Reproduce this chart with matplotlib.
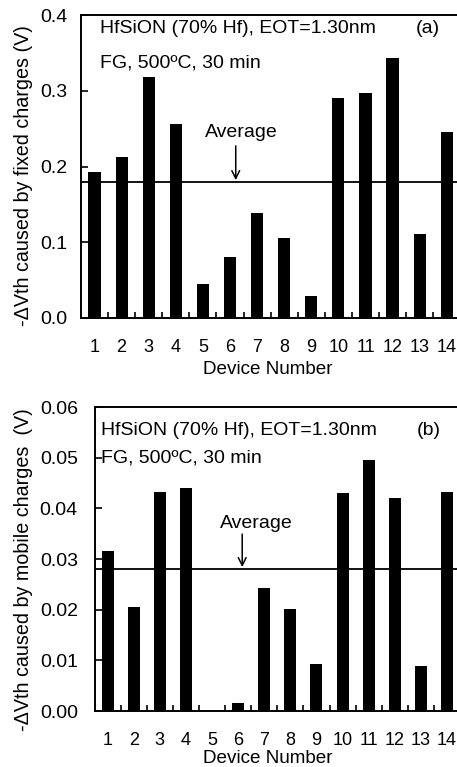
#!/usr/bin/env python3

from matplotlib import pyplot as plt
import matplotlib
import numpy as np


devices = list(range(1, 15))
device_labels = [str(d) for d in devices]

fixed_vals = [0.193, 0.212, 0.318, 0.256, 0.045, 0.080, 0.138, 0.105,
              0.029, 0.290, 0.297, 0.343, 0.111, 0.245]
fixed_avg = 0.180

mobile_vals = [0.0316, 0.0205, 0.0432, 0.0441, 0.0, 0.0016, 0.0243, 0.0201,
               0.0093, 0.0430, 0.0496, 0.0421, 0.0089, 0.0432]
mobile_avg = 0.0281

cond_text = "HfSiON (70% Hf), EOT=1.30nm"
anneal_text = "FG, 500\u00baC, 30 min"

TXT = 14


def setup():
    matplotlib.rcParams.update({
        "font.family": ["Liberation Sans", "DejaVu Sans"],
        "font.size": TXT,
        "axes.linewidth": 1.4,
    })


def draw_panel(ax, vals, avg, ymax, yticks, fmt, tag, ylabel, bar_w, pos):
    ax.bar(devices, vals, width=bar_w, color="black")
    ax.axhline(avg, color="black", lw=1.3)
    ax.set_xlim(0.5, 14.5)
    ax.set_ylim(0, ymax)

    ax.set_xticks(devices)
    ax.set_xticklabels(device_labels)
    ax.set_xticks(np.arange(1.5, 14.5, 1.0), minor=True)
    ax.tick_params(axis="x", which="major", length=0, pad=15, labelsize=13)
    ax.tick_params(axis="x", which="minor", direction="in", length=4,
                   width=1.2)
    ax.set_yticks(yticks)
    ax.set_yticklabels([fmt.format(t) for t in yticks])
    ax.tick_params(axis="y", direction="in", length=5, width=1.2,
                   labelsize=14, pad=pos["ypad"])

    ax.text(pos["tx"], pos["t1"], cond_text, transform=ax.transAxes,
            va="center", ha="left", fontsize=TXT)
    ax.text(pos["tx"], pos["t2"], anneal_text, transform=ax.transAxes,
            va="center", ha="left", fontsize=TXT)
    ax.text(pos["tag"], pos["t1"], tag, transform=ax.transAxes,
            va="center", ha="center", fontsize=TXT)
    ax.text(pos["avx"], pos["avy"], "Average", transform=ax.transAxes,
            va="center", ha="center", fontsize=TXT)
    ax.annotate("", xy=(pos["arx"], avg / ymax + 0.005),
                xycoords="axes fraction",
                xytext=(pos["arx"], pos["ary"]), textcoords="axes fraction",
                arrowprops=dict(arrowstyle="->", lw=1.1, color="black",
                                shrinkA=0, shrinkB=0))

    ax.set_ylabel(ylabel, fontsize=14.2)
    ax.yaxis.set_label_coords(pos["ylx"], pos["yly"])
    ax.set_xlabel("Device Number", fontsize=13.6, va="top")
    ax.xaxis.set_label_coords(pos["xlx"], pos["xly"])


def main():
    setup()
    fig = plt.figure(figsize=(4.57, 7.67), dpi=100)

    ax_a = fig.add_axes([0.1772, 0.5854, 0.830, 0.395])
    draw_panel(ax_a, fixed_vals, fixed_avg, 0.4,
               [0.0, 0.1, 0.2, 0.3, 0.4], "{:.1f}", "(a)",
               "-\u0394Vth caused by fixed charges (V)", 0.45,
               dict(tx=0.05, t1=0.954, t2=0.842, tag=0.914, avx=0.424,
                    avy=0.611, arx=0.408, ary=0.568, ylx=-0.126, yly=0.469,
                    xlx=0.493, xly=-0.142, ypad=10))

    ax_b = fig.add_axes([0.2068, 0.0730, 0.800, 0.3963])
    draw_panel(ax_b, mobile_vals, mobile_avg, 0.06,
               [0.0, 0.01, 0.02, 0.03, 0.04, 0.05, 0.06], "{:.2f}", "(b)",
               "-\u0394Vth caused by mobile charges  (V)", 0.46,
               dict(tx=0.018, t1=0.924, t2=0.832, tag=0.915, avx=0.442,
                    avy=0.618, arx=0.404, ary=0.582, ylx=-0.168, yly=0.464,
                    xlx=0.475, xly=-0.128, ypad=12))

    fig.savefig("out.png", dpi=100)


if __name__ == "__main__":
    main()
